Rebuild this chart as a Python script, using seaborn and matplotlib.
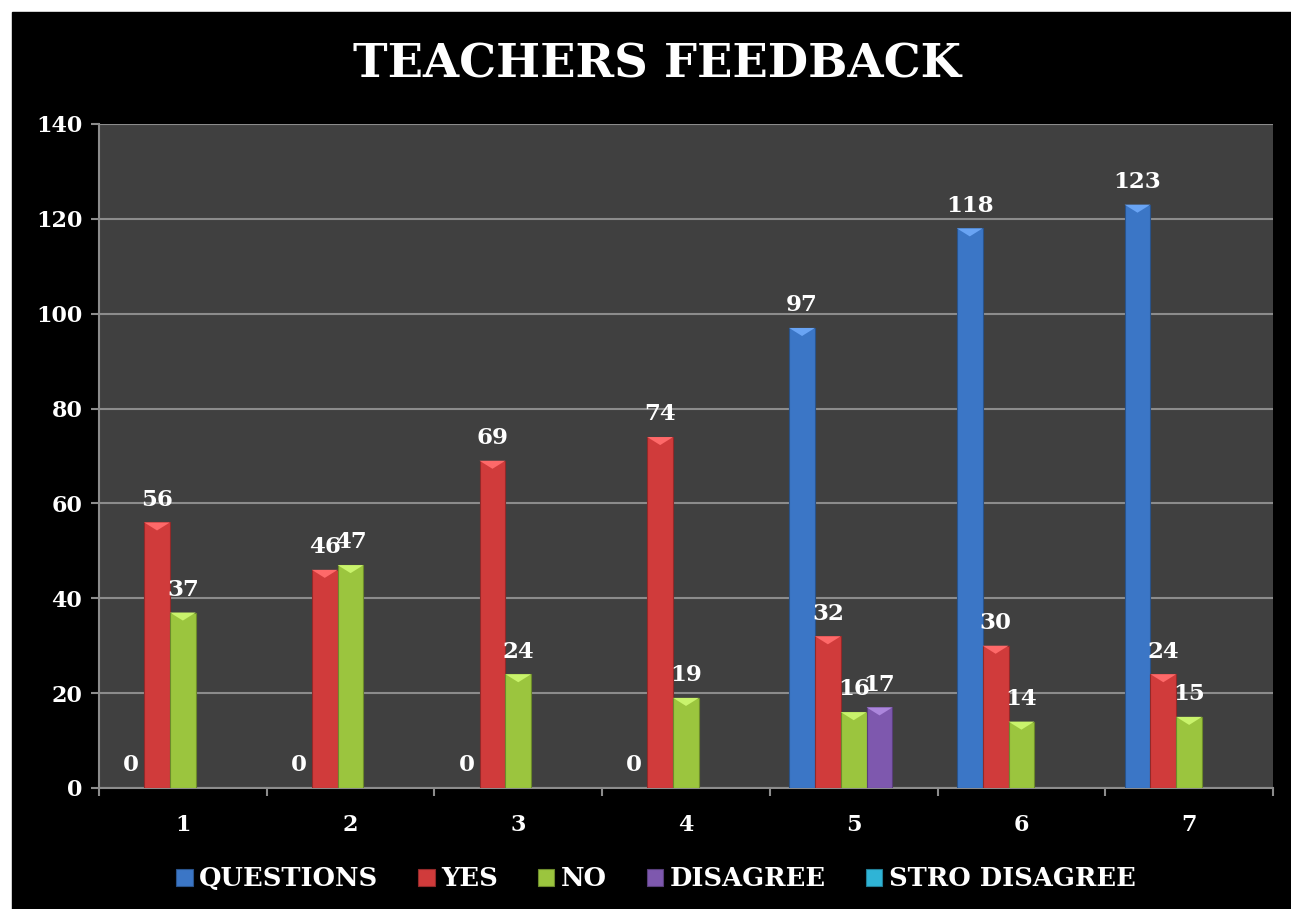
import numpy as np
import pandas as pd
import matplotlib
matplotlib.use("Agg")
import matplotlib.pyplot as plt
from matplotlib.patches import Rectangle, Polygon, Patch
import matplotlib.colors as mcolors
import seaborn as sns

# ---------------- data ----------------
categories = ["1", "2", "3", "4", "5", "6", "7"]
series_names = ["QUESTIONS", "YES", "NO", "DISAGREE", "STRO DISAGREE"]
questions = [0, 0, 0, 0, 97, 118, 123]
yes = [56, 46, 69, 74, 32, 30, 24]
no = [37, 47, 24, 19, 16, 14, 15]
disagree = [np.nan, np.nan, np.nan, np.nan, 17, np.nan, np.nan]
stro_disagree = [np.nan] * 7
title = "TEACHERS FEEDBACK"
y_ticks = [0, 20, 40, 60, 80, 100, 120, 140]

colors = ["#3B76C6", "#D03B3B", "#9BC53E", "#7E58AE", "#2FB4D6"]

df = pd.DataFrame({
    "category": categories * 5,
    "series": sum([[s] * 7 for s in series_names], []),
    "value": questions + yes + no + disagree + stro_disagree,
})

# ---------------- style ----------------
sns.set_theme(style="dark")
plt.rcParams["font.family"] = ["DejaVu Serif", "DejaVu Sans"]
plt.rcParams["font.weight"] = "bold"

W, H = 1291, 909
fig = plt.figure(figsize=(W / 100, H / 100), dpi=100, facecolor="white")
fig.patches.append(Rectangle((12 / W, -0.05), 1.1, 1.05 - 12 / H,
                             transform=fig.transFigure, color="black", zorder=-10))

ax = fig.add_axes([99 / W, 1 - 788 / H, (1273 - 99) / W, (788 - 124) / H])
ax.set_facecolor("#404040")

sns.barplot(data=df, x="category", y="value", hue="series",
            order=categories, hue_order=series_names,
            palette=colors, width=0.77, gap=0.0, legend=False,
            errorbar=None, ax=ax, saturation=1, zorder=3,
            edgecolor="none", linewidth=0)

ax.set_xlim(-0.5, len(categories) - 0.5)
ax.set_ylim(0, 140)
ax.set_yticks(y_ticks)
ax.set_xlabel("")
ax.set_ylabel("")

# bevel highlight + labels
dh = 1.7
for patch in ax.patches:
    h = patch.get_height()
    if not np.isfinite(h):
        continue
    x0 = patch.get_x()
    w = patch.get_width()
    fc = patch.get_facecolor()
    if h > 0:
        light = tuple(min(1, c + 0.18) for c in fc[:3])
        dark = tuple(max(0, c * 0.7) for c in fc[:3])
        patch.set_edgecolor(dark)
        patch.set_linewidth(0.8)
        tri = Polygon([(x0, h), (x0 + w, h), (x0 + w / 2, h - dh)],
                      closed=True, facecolor=light, edgecolor="none", zorder=4)
        ax.add_patch(tri)
    ax.annotate(f"{h:g}", (x0 + w / 2, h), xytext=(0, 12), textcoords="offset points",
                ha="center", va="baseline", color="white", fontsize=16.5,
                fontweight="bold", zorder=6)

# grid and spines
ax.yaxis.grid(True, color="#8C8C8C", linewidth=1.5, zorder=0)
ax.xaxis.grid(False)
ax.set_axisbelow(True)
for side in ["top", "right"]:
    ax.spines[side].set_visible(False)
for side in ["left", "bottom"]:
    ax.spines[side].set_visible(True)
    ax.spines[side].set_color("#8C8C8C")
    ax.spines[side].set_linewidth(1.5)

ax.tick_params(axis="y", left=True, length=6, width=1.5, color="#8C8C8C",
               labelcolor="white", labelsize=16, pad=6)
ax.set_xticks(np.arange(-0.5, len(categories)), minor=True)
ax.tick_params(axis="x", which="minor", bottom=True, length=6, width=1.5, color="#8C8C8C")
ax.tick_params(axis="x", which="major", bottom=False, length=0,
               labelcolor="white", labelsize=16, pad=19)
for lbl in ax.get_xticklabels() + ax.get_yticklabels():
    lbl.set_fontweight("bold")

# title
fig.text(0.509, 1 - 65 / H, title, ha="center", va="center", color="white",
         fontsize=33.5, fontweight="bold")

# legend
handles = [Patch(facecolor=c, edgecolor=mcolors.to_hex(tuple(x * 0.7 for x in mcolors.to_rgb(c))),
                 linewidth=0.8) for c in colors]
leg = fig.legend(handles, series_names, loc="center", bbox_to_anchor=(0.508, 1 - 879 / H),
                 ncol=5, frameon=False, handlelength=0.65, handleheight=0.65,
                 handletextpad=0.25, columnspacing=1.55, prop={"weight": "bold", "size": 18.5})
for t in leg.get_texts():
    t.set_color("white")

fig.savefig("out.png", dpi=100, facecolor=fig.get_facecolor())
